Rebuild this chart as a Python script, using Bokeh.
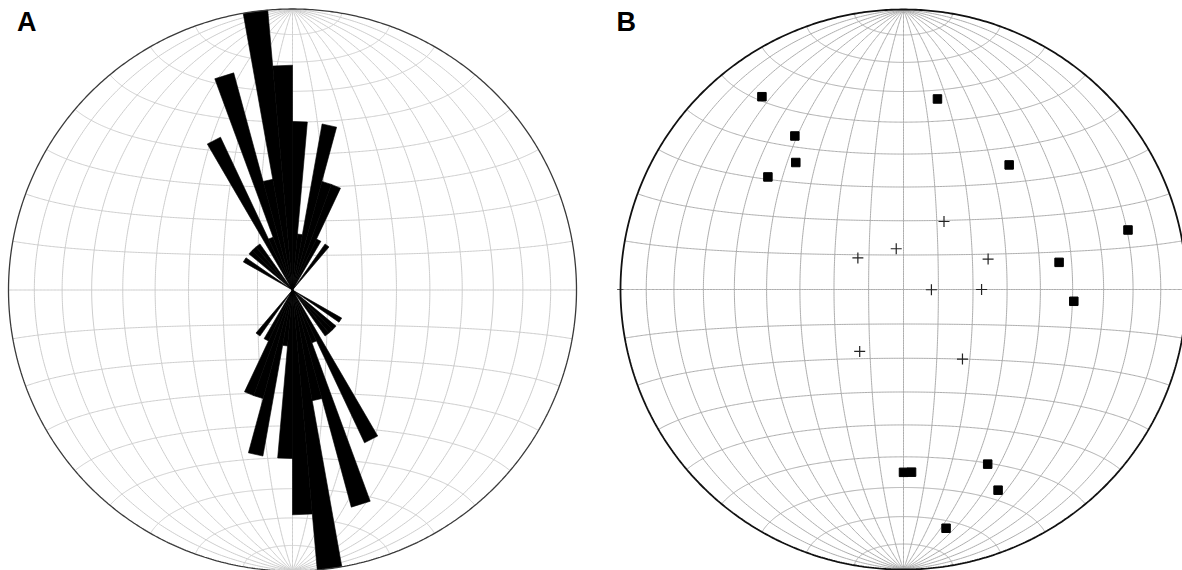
import numpy as np
from bokeh.plotting import figure
from bokeh.layouts import row
from bokeh.models import Range1d, Label
from bokeh.embed import file_html
from bokeh.resources import INLINE

# ---------------- data ----------------
# Panel A: rose diagram, 5-degree bins (azimuth of bin start), counts; axial data (plotted both ways)
rose_bin_start = [300, 310, 315, 320, 330, 335, 340, 345, 350, 355, 0, 5, 10, 15, 20, 25, 35]
rose_counts    = [1,   1,   1,   1,   3,   1,   4,   2,   5,   4,   3, 1, 3,  2,  2,  1,  1]
rose_bin_width = 5
rose_max_count = 5

# Panel B: lower-hemisphere equal-area plot (trend, plunge in degrees)
square_trend  = [324, 10, 325, 320, 310, 40, 75, 80, 94, 180, 177.5, 154.5, 155, 170]
square_plunge = [16, 31.5, 33.5, 40.5, 37.5, 41.5, 19, 43.5, 39.5, 35, 35, 31.5, 22, 14.5]
cross_trend   = [30.5, 350, 305, 70, 90.5, 90, 215, 140]
cross_plunge  = [67, 78, 74, 64, 82, 67.5, 68, 63.5]

panel_labels = ["A", "B"]

# ---------------- layout (page pixels) ----------------
FIG_W, FIG_H = 591, 570
A_GEOM = dict(cx=292, cy=289.5, rx=284, ry=281)
B_GEOM = dict(cx=903, cy=289, rx=283, ry=280)


def project(trend, plunge):
    t = np.radians(np.asarray(trend, float))
    p = np.radians(np.asarray(plunge, float))
    r = np.sqrt(2) * np.sin((np.pi / 2 - p) / 2)
    return r * np.sin(t), r * np.cos(t)


def schmidt_net(step=10):
    xs, ys = [], []
    phi = np.radians(np.linspace(-90, 90, 361))
    for lon in range(-90 + step, 90, step):
        lam = np.radians(lon)
        k = 1 / np.sqrt(1 + np.cos(phi) * np.cos(lam))
        xs.append(list(k * np.cos(phi) * np.sin(lam)))
        ys.append(list(k * np.sin(phi)))
    lam = np.radians(np.linspace(-90, 90, 361))
    for lat in range(-90 + step, 90, step):
        ph = np.radians(lat)
        k = 1 / np.sqrt(1 + np.cos(ph) * np.cos(lam))
        xs.append(list(k * np.cos(ph) * np.sin(lam)))
        ys.append(list(k * np.sin(ph)))
    return xs, ys


def make_fig(page_x0, g):
    x0 = (page_x0 - g["cx"]) / g["rx"]
    x1 = (page_x0 + FIG_W - g["cx"]) / g["rx"]
    y0 = (g["cy"] - FIG_H) / g["ry"]
    y1 = g["cy"] / g["ry"]
    p = figure(width=FIG_W, height=FIG_H, x_range=Range1d(x0, x1), y_range=Range1d(y0, y1),
               output_backend="svg", toolbar_location=None, x_axis_type=None, y_axis_type=None,
               min_border=0, outline_line_color=None, background_fill_color="white",
               border_fill_color="white")
    p.grid.visible = False
    return p


def add_label(p, text, page_x, page_baseline, g):
    p.add_layout(Label(x=(page_x - g["cx"]) / g["rx"], y=(g["cy"] - page_baseline) / g["ry"],
                       text=text, text_font="Liberation Sans", text_font_style="bold",
                       text_font_size="27px", text_color="black", text_baseline="alphabetic"))


def unit_circle(n=721):
    t = np.linspace(0, 2 * np.pi, n)
    return np.sin(t), np.cos(t)


net_xs, net_ys = schmidt_net(10)
circ_x, circ_y = unit_circle()

# ---------------- panel A ----------------
pa = make_fig(0, A_GEOM)
pa.multi_line(net_xs, net_ys, line_color="#cdcdcd", line_width=1)

pxs, pys = [], []
for start, c in zip(rose_bin_start, rose_counts):
    if c <= 0:
        continue
    r = c / rose_max_count
    for off in (0, 180):
        a1 = np.radians(start + off)
        a2 = np.radians(start + off + rose_bin_width)
        pxs.append([0, r * np.sin(a1), r * np.sin(a2)])
        pys.append([0, r * np.cos(a1), r * np.cos(a2)])
pa.patches(pxs, pys, fill_color="black", line_color="black", line_width=0.6)
pa.line(circ_x, circ_y, line_color="#3a3a3a", line_width=1.3)
add_label(pa, panel_labels[0], 16.5, 21, A_GEOM)

# ---------------- panel B ----------------
pb = make_fig(FIG_W, B_GEOM)
pb.multi_line(net_xs, net_ys, line_color="#adadad", line_width=1)
pb.line([-1.012, -0.99], [0, 0], line_color="#555555", line_width=1)
pb.line(circ_x, circ_y, line_color="#111111", line_width=1.8)

sx, sy = project(square_trend, square_plunge)
pb.scatter(sx, sy, marker="square", size=8.5, fill_color="black", line_color="black")
cxs, cys = project(cross_trend, cross_plunge)
pb.scatter(cxs, cys, marker="cross", size=11, line_color="#222222", line_width=1.2)
add_label(pb, panel_labels[1], 616, 21, B_GEOM)

layout = row(pa, pb)
open("out.html", "w").write(file_html(layout, INLINE))
